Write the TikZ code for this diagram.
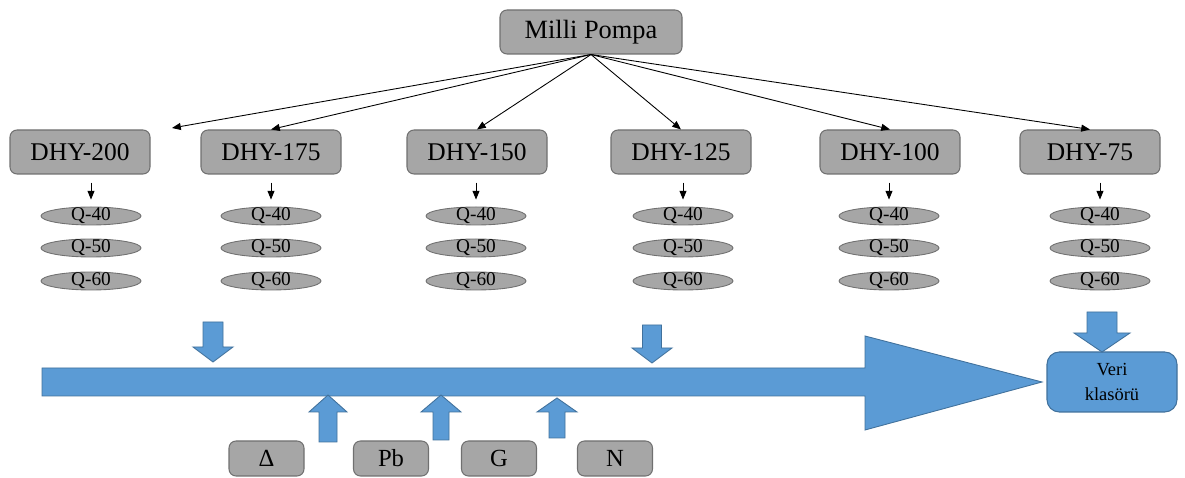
\documentclass[tikz,border=0pt]{standalone}
\usepackage{fontspec}
\setmainfont{Liberation Serif}
\definecolor{BoxGray}{RGB}{166,166,166}
\definecolor{EdgeGray}{RGB}{112,112,112}
\definecolor{FlowBlue}{RGB}{91,155,213}
\definecolor{EdgeBlue}{RGB}{65,113,156}
\usetikzlibrary{arrows.meta, shapes.geometric, positioning, calc}

\tikzset{
  graybox/.style={fill=BoxGray, draw=EdgeGray, rounded corners=4pt,
                  line width=0.6pt, inner sep=0pt},
  pumpbox/.style={graybox, minimum width=2.8cm, minimum height=0.88cm,
                  font=\fontsize{14.5}{16}\selectfont},
  inputbox/.style={graybox, minimum width=1.5cm, minimum height=0.7cm,
                   font=\fontsize{14}{16}\selectfont},
  qoval/.style={ellipse, fill=BoxGray, draw=EdgeGray, line width=0.5pt,
                minimum width=2cm, minimum height=0.36cm,
                inner xsep=0pt, inner ysep=-1.5pt,
                text height=7pt, text depth=1.5pt,
                font=\fontsize{11}{12}\selectfont},
  blockarrow/.style={fill=FlowBlue, draw=EdgeBlue, line width=0.5pt},
  link/.style={-{Triangle[length=5pt,width=4pt]}, line width=0.5pt},
}

\begin{document}
\begin{tikzpicture}
  \useasboundingbox (0,0) rectangle (23.7,9.56);

  % top node
  \node[graybox, minimum width=3.64cm, minimum height=0.88cm,
        font=\fontsize{15}{17}\selectfont] (pompa) at (11.82,8.92) {Milli Pompa};

  % pump sizes and flow rates
  \foreach \v/\x/\cx in {200/1.6/1.82, 175/5.42/5.42, 150/9.54/9.52,
                         125/13.62/13.66, 100/17.8/17.78, 75/21.8/22.0} {
    \node[pumpbox] (d\v) at (\x,6.52) {DHY-\v};
    \node[qoval] (q\v x40) at (\cx,5.24) {Q-40};
    \node[qoval] (q\v x50) at (\cx,4.6) {Q-50};
    \node[qoval] (q\v x60) at (\cx,3.94) {Q-60};
    \draw[link, shorten <=0.16cm, shorten >=0.14cm]
      (q\v x40.north |- d\v.south) -- (q\v x40.north);
  }

  \coordinate (d200tip) at (3.44,7.0);
  \draw[link] (pompa.south) -- (d200tip);
  \draw[link] (pompa.south) -- (d175.north);
  \draw[link] (pompa.south) -- (d150.north);
  \draw[link] (pompa.south) -- (d125.north);
  \draw[link] (pompa.south) -- (d100.north);
  \draw[link] (pompa.south) -- (d75.north);

  % data folder
  \node[fill=FlowBlue, draw=EdgeBlue, rounded corners=7pt, line width=0.6pt,
        minimum width=2.6cm, minimum height=1.2cm, align=center,
        font=\fontsize{10.5}{14}\selectfont] (veri) at (22.24,1.92) {Veri\\klasörü};

  % inputs
  \node[inputbox] (delta) at (5.33,0.39) {Δ};
  \node[inputbox] (pb) at (7.82,0.39) {Pb};
  \node[inputbox] (g) at (9.98,0.39) {G};
  \node[inputbox] (n) at (12.3,0.39) {N};

  % main flow
  \filldraw[blockarrow] (0.84,2.2) -- (17.3,2.2) -- (17.3,2.84) -- (20.84,1.92)
    -- (17.3,0.96) -- (17.3,1.64) -- (0.84,1.64) -- cycle;

  % down arrows
  \filldraw[blockarrow] (4.06,3.12) -- ++(0.4,0) -- ++(0,-0.5) -- ++(0.2,0)
    -- ++(-0.4,-0.3) -- ++(-0.4,0.3) -- ++(0.2,0) -- cycle;
  \filldraw[blockarrow] (12.85,3.06) -- ++(0.38,0) -- ++(0,-0.46) -- ++(0.21,0)
    -- ++(-0.4,-0.3) -- ++(-0.4,0.3) -- ++(0.21,0) -- cycle;
  \filldraw[blockarrow] (21.74,3.32) -- ++(0.6,0) -- ++(0,-0.42) -- ++(0.26,0)
    -- ++(-0.56,-0.38) -- ++(-0.56,0.38) -- ++(0.26,0) -- cycle;

  % up arrows
  \filldraw[blockarrow] (6.38,0.72) -- ++(0.36,0) -- ++(0,0.6) -- ++(0.2,0)
    -- ++(-0.38,0.34) -- ++(-0.38,-0.34) -- ++(0.2,0) -- cycle;
  \filldraw[blockarrow] (8.66,0.76) -- ++(0.32,0) -- ++(0,0.56) -- ++(0.24,0)
    -- ++(-0.4,0.34) -- ++(-0.4,-0.34) -- ++(0.24,0) -- cycle;
  \filldraw[blockarrow] (10.98,0.8) -- ++(0.32,0) -- ++(0,0.52) -- ++(0.24,0)
    -- ++(-0.4,0.28) -- ++(-0.4,-0.28) -- ++(0.24,0) -- cycle;
\end{tikzpicture}
\end{document}
